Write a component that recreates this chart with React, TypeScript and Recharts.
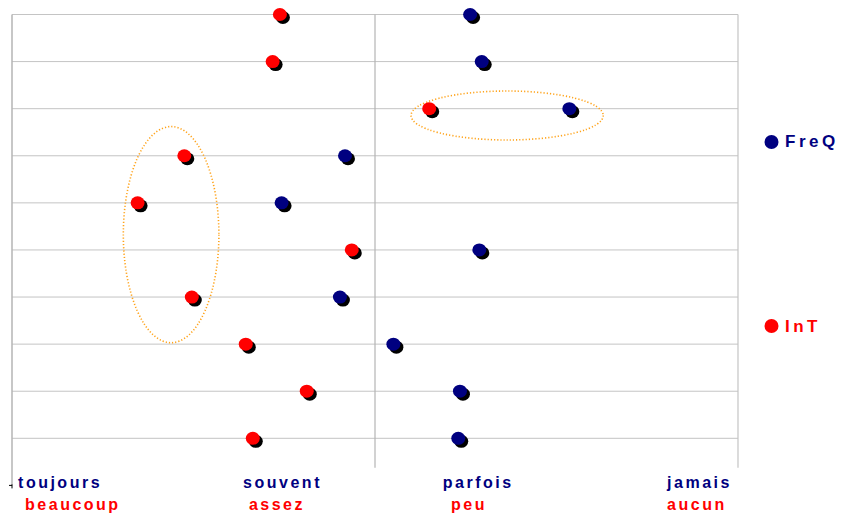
import React from 'react';
import {
  ScatterChart, Scatter, XAxis, YAxis, CartesianGrid, ReferenceLine, ReferenceArea,
} from 'recharts';

// ---- data ----
const ROWS = [10, 9, 8, 7, 6, 5, 4, 3, 2, 1];
const INT_VALUES = [2.107, 2.077, 2.724, 1.712, 1.519, 2.404, 1.743, 1.966, 2.218, 1.995];
const FREQ_VALUES = [2.893, 2.941, 3.303, 2.376, 2.114, 2.931, 2.355, 2.576, 2.851, 2.844];

const FREQ_LABELS = ['toujours', 'souvent', 'parfois', 'jamais'];
const FREQ_LABEL_POS = [1.025, 1.955, 2.78, 3.707];
const INT_LABELS = ['beaucoup', 'assez', 'peu', 'aucun'];
const INT_LABEL_POS = [1.054, 1.979, 2.814, 3.707];

const SERIES_NAMES = ['FreQ', 'InT'];

// annotation ellipses (data-space extents)
const ELLIPSES = [
  { x1: 1.46, x2: 1.855, y1: 3.03, y2: 7.62 },
  { x1: 2.649, x2: 3.443, y1: 7.335, y2: 8.375 },
];

const NAVY = '#000080';
const RED = '#ff0000';
const FONT = '"Liberation Sans", Arial, sans-serif';

const freqData = ROWS.map((r, i) => ({ x: FREQ_VALUES[i], y: r }));
const intData = ROWS.map((r, i) => ({ x: INT_VALUES[i], y: r }));

const ALL_TICKS = Array.from(new Set([1, ...FREQ_LABEL_POS, ...INT_LABEL_POS])).sort((a, b) => a - b);

const Dot = (color: string) => (props: any) => {
  const { cx, cy } = props;
  if (cx == null || cy == null) return null;
  return (
    <g>
      <ellipse cx={cx + 3} cy={cy + 3} rx={7} ry={6.5} fill="#000" />
      <ellipse cx={cx} cy={cy} rx={7} ry={6.5} fill={color} />
    </g>
  );
};

const EllipseShape = (props: any) => {
  const { x, y, width, height } = props;
  return (
    <ellipse
      cx={x + width / 2}
      cy={y + height / 2}
      rx={Math.abs(width) / 2}
      ry={Math.abs(height) / 2}
      fill="none"
      stroke="#ffa31a"
      strokeWidth={1.6}
      strokeDasharray="1.2 2"
    />
  );
};

const labelStyle = {
  fontFamily: FONT,
  fontWeight: 'bold' as const,
  fontSize: 16,
  letterSpacing: 2.5,
};

const AxisTick = (props: any) => {
  const { x, y, payload } = props;
  const v = payload.value;
  const fi = FREQ_LABEL_POS.indexOf(v);
  const ii = INT_LABEL_POS.indexOf(v);
  return (
    <g>
      {v === 1 && <line x1={x} y1={y - 1} x2={x} y2={y + 3} stroke="#000" strokeWidth={1} />}
      {fi >= 0 && (
        <text x={x} y={y + 2.5} fill={NAVY} textAnchor="start" {...labelStyle}>
          {FREQ_LABELS[fi]}
        </text>
      )}
      {ii >= 0 && (
        <text x={x} y={y + 25} fill={RED} textAnchor="start" {...labelStyle}>
          {INT_LABELS[ii]}
        </text>
      )}
    </g>
  );
};

const legendText = {
  fontFamily: FONT,
  fontWeight: 'bold' as const,
  fontSize: 17,
  letterSpacing: 3.5,
};

const LegendBlock = () => (
  <svg
    width={86}
    height={210}
    style={{ position: 'absolute', left: 762, top: 132, display: 'block' }}
  >
    <circle cx={9.5} cy={10} r={7} fill={NAVY} />
    <text x={23} y={15} fill={NAVY} {...legendText}>
      {SERIES_NAMES[0]}
    </text>
    <circle cx={9.5} cy={194} r={7} fill={RED} />
    <text x={23} y={200} fill={RED} {...legendText}>
      {SERIES_NAMES[1]}
    </text>
  </svg>
);

export default function App() {
  return (
    <div style={{ position: 'absolute', left: 0, top: 0, width: 848, height: 518, background: '#fff' }}>
      <ScatterChart
        width={848}
        height={518}
        margin={{ top: 14.5, right: 110, bottom: 31.6, left: 11 }}
      >
        <CartesianGrid
          vertical={false}
          stroke="#c4c4c4"
          horizontalValues={[1, 2, 3, 4, 5, 6, 7, 8, 9, 10]}
        />
        <XAxis
          type="number"
          dataKey="x"
          domain={[1, 4]}
          ticks={ALL_TICKS}
          interval={0}
          allowDataOverflow
          axisLine={false}
          tickLine={false}
          tickSize={0}
          tickMargin={0}
          tick={AxisTick}
          height={1}
        />
        <YAxis
          type="number"
          dataKey="y"
          domain={[0, 10]}
          ticks={[0]}
          interval={0}
          width={1}
          axisLine={{ stroke: '#b4b4b4', strokeWidth: 1.5 }}
          tickSize={3}
          tickLine={{ stroke: '#000' }}
          tickFormatter={() => ''}
        />
        <ReferenceLine
          segment={[{ x: 2.5, y: 0.376 }, { x: 2.5, y: 10 }]}
          stroke="#b4b4b4"
          strokeWidth={1.2}
        />
        <ReferenceLine
          segment={[{ x: 4, y: 0.376 }, { x: 4, y: 10 }]}
          stroke="#c4c4c4"
          strokeWidth={1.2}
        />
        {ELLIPSES.map((e, i) => (
          <ReferenceArea
            key={i}
            x1={e.x1}
            x2={e.x2}
            y1={e.y1}
            y2={e.y2}
            shape={EllipseShape}
            ifOverflow="visible"
          />
        ))}
        <Scatter
          name={SERIES_NAMES[0]}
          data={freqData}
          fill={NAVY}
          shape={Dot(NAVY)}
          isAnimationActive={false}
        />
        <Scatter
          name={SERIES_NAMES[1]}
          data={intData}
          fill={RED}
          shape={Dot(RED)}
          isAnimationActive={false}
        />
      </ScatterChart>
      <LegendBlock />
    </div>
  );
}
